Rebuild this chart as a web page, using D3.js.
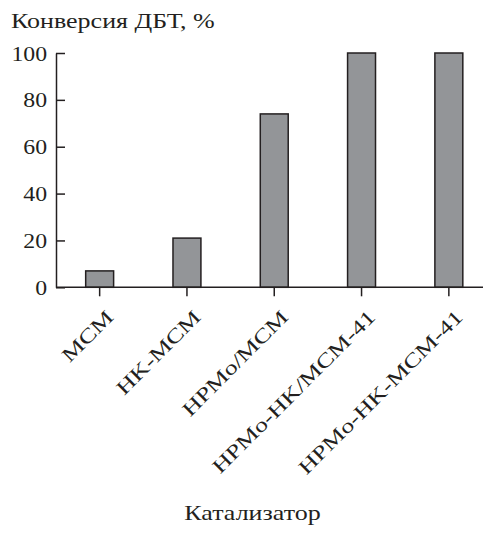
<!DOCTYPE html>
<html><head><meta charset="utf-8">
<script src="https://cdn.jsdelivr.net/npm/d3@7"></script>
</head>
<body style="margin:0">
<svg id="c" width="483" height="533"></svg>
<script>
const categories = ["MCM", "HK-MCM", "HPMo/MCM", "HPMo-HK/MCM-41", "HPMo-HK-MCM-41"];
const conversion = [7, 21, 74, 100, 100];
const yTicks = [0, 20, 40, 60, 80, 100];
const yTitle = "Конверсия ДБТ, %";
const xTitle = "Катализатор";

const svg = d3.select("#c");
const x0 = 56, yTop = 53, yBot = 287.3;
const ink = "#231f20";
const wide = 1.3;   // reference typeface is wider than Times
const FONT = "serif";

const x = d3.scaleBand().domain(categories).range([x0, x0 + 5 * 87.3]).paddingInner(0.68).paddingOuter(0.34);
const y = d3.scaleLinear().domain([0, 100]).range([yBot, yTop]);

svg.append("g").selectAll("rect").data(conversion).join("rect")
  .attr("x", (d, i) => x(categories[i]))
  .attr("width", x.bandwidth())
  .attr("y", d => y(d))
  .attr("height", d => y(0) - y(d))
  .attr("fill", "#939598")
  .attr("stroke", ink)
  .attr("stroke-width", 1.5);

const ya = svg.append("g").attr("transform", `translate(${x0},0)`)
  .call(d3.axisLeft(y).tickValues(yTicks).tickSizeInner(-9).tickSizeOuter(0).tickPadding(9));
ya.attr("font-family", FONT).attr("font-size", 22);
ya.selectAll("text").attr("fill", ink)
  .attr("x", 0).attr("transform", "translate(-9,0) scale(1.08,1)");
ya.selectAll("path,line").attr("stroke", ink).attr("stroke-width", 1.5);

const xa = svg.append("g").attr("transform", `translate(0,${yBot})`)
  .call(d3.axisBottom(x).tickSizeInner(9).tickSizeOuter(0).tickFormat(""));
xa.select(".domain").attr("d", `M${x0},0H${x0 + 5 * 87.3}`);
xa.selectAll("path,line").attr("stroke", ink).attr("stroke-width", 1.5);

svg.append("g").selectAll("text").data(categories).join("text")
  .attr("font-family", FONT).attr("font-size", 20).attr("fill", ink)
  .attr("transform", d => `translate(${x(d) + x.bandwidth() / 2 + 15},${yBot + 31}) rotate(-45) scale(${wide},1)`)
  .attr("text-anchor", "end")
  .text(d => d);

svg.append("text").attr("transform", `translate(11,28) scale(${wide},1)`)
  .attr("font-family", FONT).attr("font-size", 20).attr("fill", ink).text(yTitle);
svg.append("text").attr("transform", `translate(252.5,520) scale(${wide},1)`).attr("text-anchor", "middle")
  .attr("font-family", FONT).attr("font-size", 20).attr("fill", ink).text(xTitle);
</script>
</body></html>
